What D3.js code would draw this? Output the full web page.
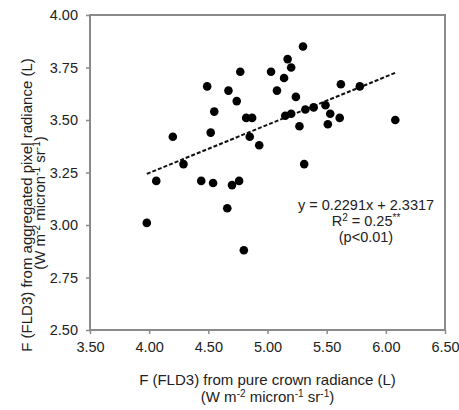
<!DOCTYPE html>
<html>
<head>
<meta charset="utf-8">
<script src="https://cdn.jsdelivr.net/npm/d3@7"></script>
<style>
  body { margin: 0; background: #fff; }
  text { font-family: Arial, "Liberation Sans", sans-serif; fill: #222; }
</style>
</head>
<body>
<div id="scatter"></div>
<script>
// F (FLD3) values
const crownRadiance = [3.98, 4.06, 4.20, 4.29, 4.44, 4.49, 4.52, 4.54, 4.55, 4.66,
    4.67, 4.70, 4.74, 4.76, 4.77, 4.80, 4.82, 4.85, 4.87, 4.93,
    5.03, 5.08, 5.14, 5.15, 5.17, 5.20, 5.20, 5.24, 5.27, 5.30,
    5.31, 5.32, 5.39, 5.49, 5.51, 5.53, 5.61, 5.62, 5.78, 6.08];
const pixelRadiance = [3.01, 3.21, 3.42, 3.29, 3.21, 3.66, 3.44, 3.20, 3.54, 3.08,
    3.64, 3.19, 3.59, 3.21, 3.73, 2.88, 3.51, 3.42, 3.51, 3.38,
    3.73, 3.64, 3.70, 3.52, 3.79, 3.75, 3.53, 3.61, 3.47, 3.85,
    3.29, 3.55, 3.56, 3.57, 3.48, 3.53, 3.51, 3.67, 3.66, 3.50];
const xTicks = [3.5, 4.0, 4.5, 5.0, 5.5, 6.0, 6.5];
const yTicks = [2.5, 2.75, 3.0, 3.25, 3.5, 3.75, 4.0];
const slope = 0.2291;
const intercept = 2.3317;

const svgWidth = 459;
const svgHeight = 410;
const margin = { top: 15, right: 14, bottom: 80, left: 90 };
const width = svgWidth - margin.left - margin.right;
const height = svgHeight - margin.top - margin.bottom;

const svg = d3.select("#scatter")
    .append("svg")
    .attr("width", svgWidth)
    .attr("height", svgHeight);

const chartGroup = svg.append("g")
    .attr("transform", `translate(${margin.left}, ${margin.top})`);

const data = crownRadiance.map((x, i) => ({ x: x, y: pixelRadiance[i] }));

// scales
const xScale = d3.scaleLinear().domain([3.5, 6.5]).range([0, width]);
const yScale = d3.scaleLinear().domain([2.5, 4.0]).range([height, 0]);

// axes
const bottomAxis = d3.axisBottom(xScale).tickValues(xTicks)
    .tickFormat(d3.format(".2f")).tickSizeOuter(0).tickSize(4).tickPadding(8);
const leftAxis = d3.axisLeft(yScale).tickValues(yTicks)
    .tickFormat(d3.format(".2f")).tickSizeOuter(0).tickSize(4).tickPadding(8);

const xAxisG = chartGroup.append("g")
    .attr("transform", `translate(0, ${height})`)
    .call(bottomAxis);
const yAxisG = chartGroup.append("g").call(leftAxis);

[xAxisG, yAxisG].forEach(g => {
    g.select(".domain").remove();
    g.selectAll(".tick line").attr("stroke", "#8a8a8a").attr("stroke-width", 1.5);
    g.selectAll(".tick text")
        .attr("font-size", 14.5)
        .attr("font-family", "Arial, 'Liberation Sans', sans-serif")
        .attr("fill", "#222");
});

// plot frame
chartGroup.append("rect")
    .attr("width", width)
    .attr("height", height)
    .attr("fill", "none")
    .attr("stroke", "#8a8a8a")
    .attr("stroke-width", 2);

// regression line over the data range
const xExtent = d3.extent(crownRadiance);
chartGroup.append("line")
    .attr("x1", xScale(xExtent[0]))
    .attr("y1", yScale(slope * xExtent[0] + intercept))
    .attr("x2", xScale(xExtent[1]))
    .attr("y2", yScale(slope * xExtent[1] + intercept))
    .attr("stroke", "#111")
    .attr("stroke-width", 2)
    .attr("stroke-dasharray", "4,2");

// points
chartGroup.selectAll("circle")
    .data(data)
    .join("circle")
    .attr("cx", d => xScale(d.x))
    .attr("cy", d => yScale(d.y))
    .attr("r", 4.3)
    .attr("fill", "#000");

// equation
const eq = chartGroup.append("text")
    .attr("text-anchor", "middle")
    .attr("font-size", 14.5)
    .attr("x", 276)
    .attr("y", 195);
eq.append("tspan").attr("x", 276).text("y = 0.2291x + 2.3317");
const r2 = eq.append("tspan").attr("x", 276).attr("dy", 16);
r2.append("tspan").text("R");
r2.append("tspan").attr("font-size", 10).attr("dy", -5).text("2");
r2.append("tspan").attr("dy", 5).text(" = 0.25");
r2.append("tspan").attr("font-size", 10).attr("dy", -5).text("**");
eq.append("tspan").attr("x", 276).attr("dy", 21).text("(p<0.01)");

// unit label helper
function unitLabel(sel) {
    sel.append("tspan").text("(W m");
    sel.append("tspan").attr("font-size", 10).attr("dy", -5).text("-2");
    sel.append("tspan").attr("dy", 5).text(" micron");
    sel.append("tspan").attr("font-size", 10).attr("dy", -5).text("-1");
    sel.append("tspan").attr("dy", 5).text(" sr");
    sel.append("tspan").attr("font-size", 10).attr("dy", -5).text("-1");
    sel.append("tspan").attr("dy", 5).text(")");
}

// x axis title
chartGroup.append("text")
    .attr("text-anchor", "middle")
    .attr("font-size", 15)
    .attr("x", width / 2)
    .attr("y", height + 55)
    .text("F (FLD3) from pure crown radiance (L)");
chartGroup.append("text")
    .attr("text-anchor", "middle")
    .attr("font-size", 15)
    .attr("x", width / 2)
    .attr("y", height + 72)
    .call(unitLabel);

// y axis title
svg.append("text")
    .attr("transform", "rotate(-90)")
    .attr("text-anchor", "middle")
    .attr("font-size", 15)
    .attr("x", -205)
    .attr("y", 32)
    .text("F (FLD3) from aggregated pixel radiance (L)");
svg.append("text")
    .attr("transform", "rotate(-90)")
    .attr("text-anchor", "middle")
    .attr("font-size", 15)
    .attr("x", -203)
    .attr("y", 45)
    .call(unitLabel);
</script>
</body>
</html>
